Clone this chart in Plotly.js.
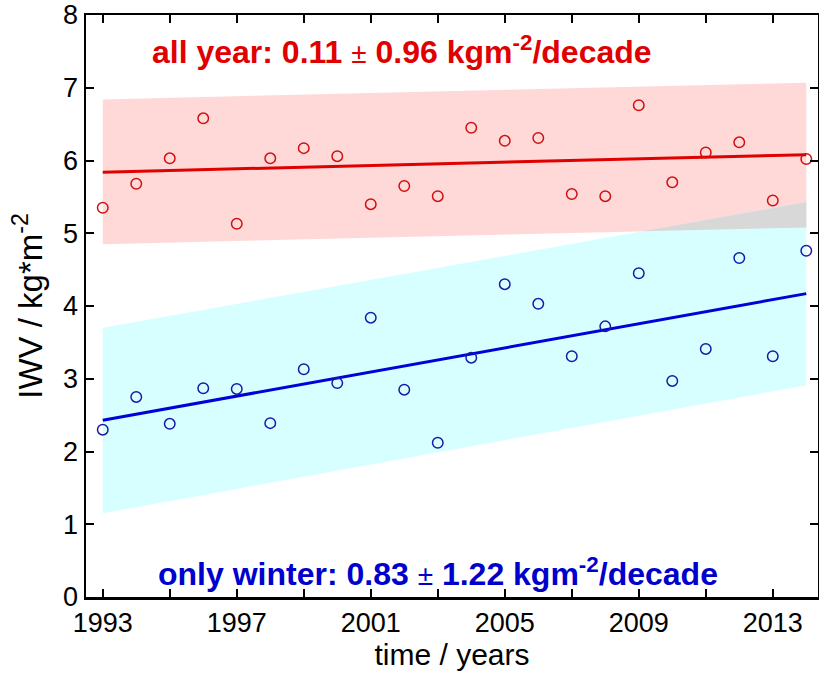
<!DOCTYPE html>
<html>
<head>
<meta charset="utf-8">
<script src="https://cdn.plot.ly/plotly-3.0.1.min.js"></script>
<style>
  html, body { margin: 0; padding: 0; background: #fff; }
  #chart { width: 819px; height: 673px; }
</style>
</head>
<body>
<div id="chart"></div>
<script>
// ---- data ----
const years = [1993,1994,1995,1996,1997,1998,1999,2000,2001,2002,2003,2004,2005,2006,2007,2008,2009,2010,2011,2012,2013,2014];
const allYear = [5.35,5.68,6.03,6.58,5.13,6.03,6.17,6.06,5.40,5.65,5.51,6.45,6.27,6.31,5.54,5.51,6.76,5.70,6.11,6.25,5.45,6.02];
const winter  = [2.30,2.75,2.38,2.87,2.86,2.39,3.13,2.94,3.84,2.85,2.12,3.29,4.30,4.03,3.31,3.72,4.45,2.97,3.41,4.66,3.31,4.76];

const fitYears = [1993, 2014];
const allFit = [5.84, 6.08];
const allLow = [4.85, 5.08];
const allHigh = [6.84, 7.07];
const winFit = [2.43, 4.17];
const winLow = [1.15, 2.91];
const winHigh = [3.70, 5.43];

const tickYears = [1993,1995,1997,1999,2001,2003,2005,2007,2009,2011,2013];
const tickLabels = ['1993','','1997','','2001','','2005','','2009','','2013'];
const yTicks = [0,1,2,3,4,5,6,7,8];

const allLabel = '<b>all year: 0.11 <span style="font-size:28px;font-weight:normal">±</span> 0.96 kgm<sup>-2</sup>/decade</b>';
const winLabel = '<b>only winter: 0.83 <span style="font-size:28px;font-weight:normal">±</span> 1.22 kgm<sup>-2</sup>/decade</b>';

const RED = '#e00000';
const BLUE = '#0000cc';
const FONT = 'Liberation Sans, Arial, Helvetica, sans-serif';

// overlap of the two bands (where winter upper bound exceeds all-year lower bound)
function lerp(xs, ys, x) { return ys[0] + (ys[1] - ys[0]) * (x - xs[0]) / (xs[1] - xs[0]); }
const dLow = allLow[1] - allLow[0], dHigh = winHigh[1] - winHigh[0];
const tCross = (allLow[0] - winHigh[0]) / (dHigh - dLow);
const xCross = fitYears[0] + tCross * (fitYears[1] - fitYears[0]);
const overlapX = [xCross, fitYears[1], fitYears[1], xCross];
const overlapY = [lerp(fitYears, allLow, xCross), winHigh[1], allLow[1], lerp(fitYears, allLow, xCross)];

const noLine = {width: 0, color: 'rgba(0,0,0,0)'};
const traces = [
  // red band
  {x: fitYears, y: allLow, mode: 'lines', line: noLine, hoverinfo: 'skip', showlegend: false},
  {x: fitYears, y: allHigh, mode: 'lines', fill: 'tonexty', fillcolor: '#ffd8d8', line: noLine, hoverinfo: 'skip', showlegend: false},
  // cyan band
  {x: fitYears, y: winLow, mode: 'lines', line: noLine, hoverinfo: 'skip', showlegend: false},
  {x: fitYears, y: winHigh, mode: 'lines', fill: 'tonexty', fillcolor: '#d8ffff', line: noLine, hoverinfo: 'skip', showlegend: false},
  // overlap (grey)
  {x: overlapX, y: overlapY, mode: 'lines', fill: 'toself', fillcolor: '#d8d8d8', line: noLine, hoverinfo: 'skip', showlegend: false},
  // fit lines
  {x: fitYears, y: allFit, mode: 'lines', line: {color: RED, width: 3}, showlegend: false},
  {x: fitYears, y: winFit, mode: 'lines', line: {color: '#0000d8', width: 3}, showlegend: false},
  // points
  {x: years, y: allYear, mode: 'markers', marker: {symbol: 'circle-open', size: 10.5, color: '#d01010', line: {width: 1.5}}, showlegend: false, cliponaxis: false},
  {x: years, y: winter, mode: 'markers', marker: {symbol: 'circle-open', size: 10.5, color: '#1a1aa8', line: {width: 1.5}}, showlegend: false, cliponaxis: false}
];

const axisCommon = {
  showline: true, linewidth: 2.5, linecolor: '#000', mirror: 'ticks',
  ticks: 'inside', ticklen: 8, tickwidth: 2, tickcolor: '#000',
  showgrid: false, zeroline: false,
  tickfont: {family: FONT, size: 27, color: '#000'}
};

const layout = {
  width: 819, height: 673,
  paper_bgcolor: '#fff', plot_bgcolor: '#fff',
  margin: {l: 86, r: 1, t: 15, b: 76},
  showlegend: false,
  font: {family: FONT},
  xaxis: Object.assign({}, axisCommon, {
    range: [1992.5, 2014.35],
    tickmode: 'array', tickvals: tickYears, ticktext: tickLabels,
    title: {text: 'time / years', font: {family: FONT, size: 30, color: '#000'}, standoff: 0}
  }),
  yaxis: Object.assign({}, axisCommon, {
    range: [0, 8],
    tickmode: 'array', tickvals: yTicks, ticktext: yTicks.map(String),
    title: {text: 'IWV / kg*m<sup>-2</sup>', font: {family: FONT, size: 33, color: '#000'}, standoff: 11}
  }),
  annotations: [
    {xref: 'paper', yref: 'y', x: 0.088, y: 7.52, xanchor: 'left', yanchor: 'middle', text: allLabel, showarrow: false,
     font: {family: FONT, size: 32, color: RED}},
    {xref: 'paper', yref: 'y', x: 0.095, y: 0.34, xanchor: 'left', yanchor: 'middle', text: winLabel, showarrow: false,
     font: {family: FONT, size: 32, color: BLUE}}
  ]
};

Plotly.newPlot('chart', traces, layout, {staticPlot: true, displayModeBar: false});
</script>
</body>
</html>
